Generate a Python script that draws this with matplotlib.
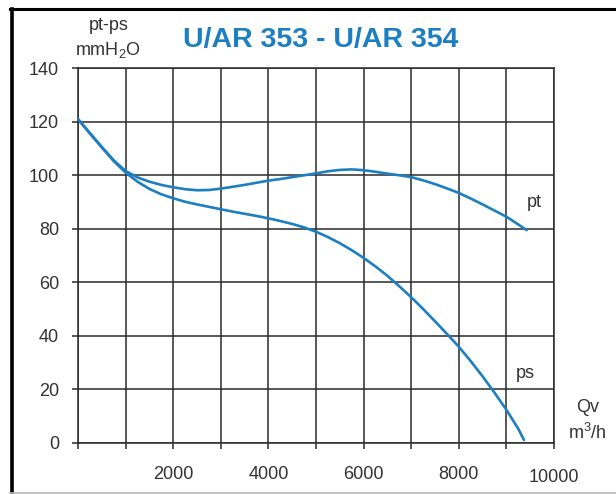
import matplotlib
matplotlib.use("Agg")
import matplotlib.pyplot as plt
from matplotlib.lines import Line2D

plt.rcParams["font.family"] = ["Liberation Sans", "DejaVu Sans"]
plt.rcParams["mathtext.default"] = "regular"

# Fan curve U/AR 353 - U/AR 354
qv_pt = [0, 250, 500, 750, 1000, 1250, 1500, 1750, 2000, 2250, 2500, 2750,
         3000, 3250, 3500, 3750, 4000, 4250, 4500, 4750, 5000, 5250, 5500,
         5750, 6000, 6250, 6500, 6750, 7000, 7250, 7500, 7750, 8000, 8250,
         8500, 8750, 9000, 9250, 9425]
pt = [121, 115.8, 110.6, 105.6, 101.6, 99.2, 97.6, 96.4, 95.5, 94.8, 94.4, 94.5,
      95, 95.7, 96.4, 97.2, 98, 98.6, 99.3, 100, 100.7, 101.5, 102,
      102.2, 101.9, 101.3, 100.6, 100, 99.3, 98.1, 96.7, 95.1, 93.4, 91.3,
      89.1, 86.8, 84.5, 81.6, 79.5]

qv_ps = [0, 250, 500, 750, 1000, 1250, 1500, 1750, 2000, 2250, 2500, 2750,
         3000, 3250, 3500, 3750, 4000, 4250, 4500, 4750, 5000, 5250, 5500,
         5750, 6000, 6250, 6500, 6750, 7000, 7250, 7500, 7750, 8000, 8250,
         8500, 8750, 9000, 9250, 9370]
ps = [121, 115.6, 110.4, 105.3, 101, 97.6, 94.9, 92.9, 91.4, 90.1, 89.1, 88.2,
      87.3, 86.4, 85.6, 84.8, 83.9, 82.9, 81.8, 80.5, 78.9, 76.9, 74.6,
      72, 69.1, 65.9, 62.4, 58.5, 54.4, 50, 45.4, 40.7, 35.9, 30.5,
      24.8, 18.7, 12.3, 5.2, 1]

x_ticks = [2000, 4000, 6000, 8000, 10000]
y_ticks = [0, 20, 40, 60, 80, 100, 120, 140]

blue = "#1c7fc2"
ink = "#333333"

fig = plt.figure(figsize=(6.16, 4.94), dpi=100)
ax = fig.add_axes([78 / 616, 1 - 442.7 / 494, 476 / 616, 374.4 / 494])

ax.plot(qv_pt, pt, color=blue, lw=1.9, solid_capstyle="round",
        solid_joinstyle="round", zorder=3)
ax.plot(qv_ps, ps, color=blue, lw=1.9, solid_capstyle="round",
        solid_joinstyle="round", zorder=3)

ax.set_xlim(0, 10000)
ax.set_ylim(0, 140)
ax.set_xticks(range(0, 10001, 1000))
ax.set_xticklabels(["" if v not in x_ticks else str(v) for v in range(0, 10001, 1000)])
ax.set_yticks(y_ticks)
ax.set_yticklabels([str(v) for v in y_ticks])
ax.grid(True, color="#2a2a2a", lw=1.1)
ax.set_axisbelow(True)
for s in ax.spines.values():
    s.set_color("#2a2a2a")
    s.set_linewidth(1.1)
ax.tick_params(direction="out", length=4.5, width=1.1, color="#2a2a2a",
               labelsize=13, labelcolor=ink)
ax.tick_params(axis="y", pad=9)
ax.tick_params(axis="x", pad=12)
ax.get_xticklabels()[-1].set_y(-0.008)

ax.text(9580, 90, "pt", fontsize=13, color=ink, ha="center", va="center")
ax.text(9390, 26, "ps", fontsize=13, color=ink, ha="center", va="center")

fig.text(109 / 616, 1 - 26 / 494, "pt-ps", fontsize=13, color=ink, ha="center", va="center")
fig.text(108 / 616, 1 - 50 / 494, "mmH$_2$O", fontsize=13, color=ink, ha="center", va="center")
fig.text(588 / 616, 1 - 407 / 494, "Qv", fontsize=13, color=ink, ha="center", va="center")
fig.text(587 / 616, 1 - 433 / 494, "m$^3$/h", fontsize=13, color=ink, ha="center", va="center")
fig.text(321 / 616, 1 - 40 / 494, "U/AR 353 - U/AR 354", fontsize=20.5,
         fontweight="bold", color=blue, ha="center", va="center")

# frame round the sheet
fig.add_artist(Line2D([11.5 / 616, 11.5 / 616], [0, 1 - 9 / 494], transform=fig.transFigure,
                      color="black", lw=2.6))
fig.add_artist(Line2D([10 / 616, 1], [1 - 9.5 / 494, 1 - 9.5 / 494], transform=fig.transFigure,
                      color="black", lw=2.2))
fig.add_artist(Line2D([10 / 616, 1], [1 - 493 / 494, 1 - 493 / 494], transform=fig.transFigure,
                      color="#bbbbbb", lw=1.2))

fig.savefig("out.png", dpi=100)
